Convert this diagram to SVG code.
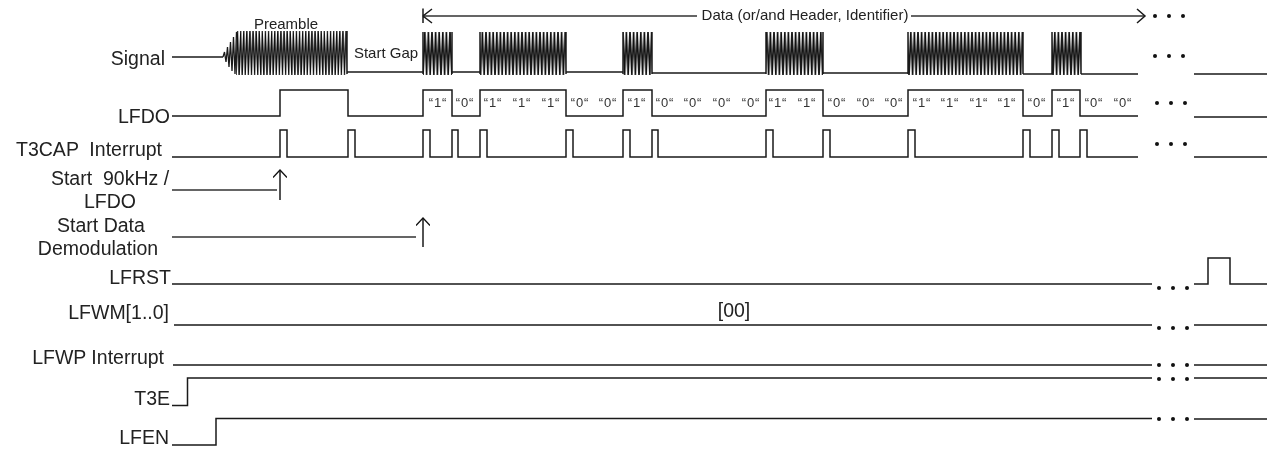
<svg xmlns="http://www.w3.org/2000/svg" width="1273" height="449" viewBox="0 0 1273 449">
<style>
text{font-family:"Liberation Sans",Arial,sans-serif;fill:#222}
.l{font-size:19.500px;text-anchor:end}
.m{font-size:19.500px;text-anchor:middle}
.s{font-size:15px;text-anchor:middle}
.b{font-size:13px;text-anchor:middle;letter-spacing:.8px;fill:#333}
.w{fill:none;stroke:#1a1a1a;stroke-width:1.500}
.t{fill:none;stroke:#333;stroke-width:1.600}
.d{fill:#111}
.g{filter:url(#gray)}
</style>
<defs>
<filter id="gray" color-interpolation-filters="sRGB" x="-5%" y="-20%" width="110%" height="140%"><feOffset dx="0" dy="0"/></filter>
<pattern id="zp" patternUnits="userSpaceOnUse" x="236" y="31" width="3.100" height="44"><path d="M0 44L1.550 0L3.100 44" fill="none" stroke="#111" stroke-width="1.300"/></pattern>
<pattern id="zb" patternUnits="userSpaceOnUse" x="423" y="32" width="3.600" height="43"><path d="M0 43L1.800 0L3.600 43" fill="none" stroke="#111" stroke-width="1.600"/></pattern>
<g id="dots"><circle cx="0" cy="0" r="2"/><circle cx="14" cy="0" r="2"/><circle cx="28" cy="0" r="2"/></g>
<marker id="open" viewBox="0 0 12 14" refX="11" refY="7" markerWidth="12" markerHeight="14" orient="auto-start-reverse" markerUnits="userSpaceOnUse"><path d="M3.500 0L11 7L3.500 14" fill="none" stroke="#111" stroke-width="1.300"/></marker>
</defs>
<g id="connectors">
<path class="w" d="M172 57H223"/>
<path class="w" style="stroke-width:1.300" d="M223 57L224.500 52L226 62L227.500 47L229 67L230.500 42L232 71L233.500 37L235 74L236.500 32"/>
<rect x="236" y="31" width="111" height="44" fill="url(#zp)"/>
<path class="w" d="M347 72H423M452 72H480M566 72H623M652 73H766M823 73H908M1023 74H1052M1081 74H1138M1194 74H1267"/>
<rect x="423" y="32" width="29" height="43" fill="url(#zb)"/>
<rect x="480" y="32" width="86" height="43" fill="url(#zb)"/>
<rect x="623" y="32" width="29" height="43" fill="url(#zb)"/>
<rect x="766" y="32" width="57" height="43" fill="url(#zb)"/>
<rect x="908" y="32" width="115" height="43" fill="url(#zb)"/>
<rect x="1052" y="32" width="29" height="43" fill="url(#zb)"/>
<path class="w" d="M423 32V74M452 32V74M480 32V74M566 32V74M623 32V74M652 32V74M766 32V74M823 32V74M908 32V74M1023 32V74M1052 32V74M1081 32V74M347 31V74"/>
<path class="w" d="M172 116H280V90H348V116H423V90H452V116H480V90H566V116H623V90H652V116H766V90H823V116H908V90H1023V116H1052V90H1080V116H1138M1194 117H1267"/>
<path class="w" d="M172 157H280V130H287V157H348V130H355V157H423V130H430V157H452V130H458V157H480V130H487V157H566V130H573V157H623V130H630V157H652V130H658V157H766V130H773V157H823V130H830V157H908V130H915V157H1023V130H1030V157H1052V130H1059V157H1080V130H1087V157H1138M1194 157H1267"/>
<path class="t" d="M172 190H277M172 237H416"/>
<path class="w" d="M280 200V170" marker-end="url(#open)"/>
<path class="w" d="M423 247V218" marker-end="url(#open)"/>
<path class="w" d="M172 284H1152M1194 284H1208V258H1230V284H1267"/>
<path class="w" d="M174 325H1152M1194 325H1267"/>
<path class="w" d="M173 365H1152M1194 365H1267"/>
<path class="w" d="M172 405.500H187.500V378H1152M1194 378H1267"/>
<path class="w" d="M172 445H216V418.500H1152M1194 419H1267"/>
<path class="t" d="M423 16H697M911 16H1144"/>
<path class="w" d="M423 8.500V23M432 9L423 16L432 23M1137 9L1145 16L1137 23"/>
</g>
<g id="continuation" class="d">
<use href="#dots" x="1155" y="16"/>
<use href="#dots" x="1155" y="56"/>
<use href="#dots" x="1157" y="103"/>
<use href="#dots" x="1157" y="144"/>
<use href="#dots" x="1159" y="288"/>
<use href="#dots" x="1159" y="328"/>
<use href="#dots" x="1159" y="365"/>
<use href="#dots" x="1159" y="379"/>
<use href="#dots" x="1159" y="419"/>
</g>
<g id="labels" class="g">
<text class="s" x="286" y="28.500">Preamble</text>
<text class="s" x="386" y="57.500">Start Gap</text>
<text x="805" y="20" class="s">Data (or/and Header, Identifier)</text>
<text class="m" x="734" y="317">[00]</text>
</g>
<g id="bits" class="g">
<text class="b" x="438" y="107">“1“</text><text class="b" x="465" y="107">“0“</text>
<text class="b" x="493" y="107">“1“</text><text class="b" x="522" y="107">“1“</text><text class="b" x="551" y="107">“1“</text>
<text class="b" x="580" y="107">“0“</text><text class="b" x="608" y="107">“0“</text><text class="b" x="637" y="107">“1“</text>
<text class="b" x="665" y="107">“0“</text><text class="b" x="693" y="107">“0“</text><text class="b" x="722" y="107">“0“</text><text class="b" x="751" y="107">“0“</text>
<text class="b" x="778" y="107">“1“</text><text class="b" x="807" y="107">“1“</text>
<text class="b" x="837" y="107">“0“</text><text class="b" x="866" y="107">“0“</text><text class="b" x="894" y="107">“0“</text>
<text class="b" x="922" y="107">“1“</text><text class="b" x="950" y="107">“1“</text><text class="b" x="979" y="107">“1“</text><text class="b" x="1007" y="107">“1“</text>
<text class="b" x="1037" y="107">“0“</text><text class="b" x="1066" y="107">“1“</text><text class="b" x="1094" y="107">“0“</text><text class="b" x="1123" y="107">“0“</text>
</g>
<g id="n-signal" class="g"><text class="l" x="165" y="65">Signal</text></g>
<g id="n-lfdo" class="g"><text class="l" x="170" y="123">LFDO</text></g>
<g id="n-t3cap" class="g"><text class="l" x="162" y="156" xml:space="preserve">T3CAP  Interrupt</text></g>
<g id="n-start90" class="g"><text class="m" x="110" y="185" xml:space="preserve">Start  90kHz /</text><text class="m" x="110" y="208">LFDO</text></g>
<g id="n-startdata" class="g"><text class="m" x="101" y="232">Start Data</text><text class="m" x="98" y="255">Demodulation</text></g>
<g id="n-lfrst" class="g"><text class="l" x="171" y="284">LFRST</text></g>
<g id="n-lfwm" class="g"><text class="l" x="169" y="319">LFWM[1..0]</text></g>
<g id="n-lfwp" class="g"><text class="l" x="164" y="364">LFWP Interrupt</text></g>
<g id="n-t3e" class="g"><text class="l" x="170" y="405">T3E</text></g>
<g id="n-lfen" class="g"><text class="l" x="169" y="444">LFEN</text></g>
</svg>
